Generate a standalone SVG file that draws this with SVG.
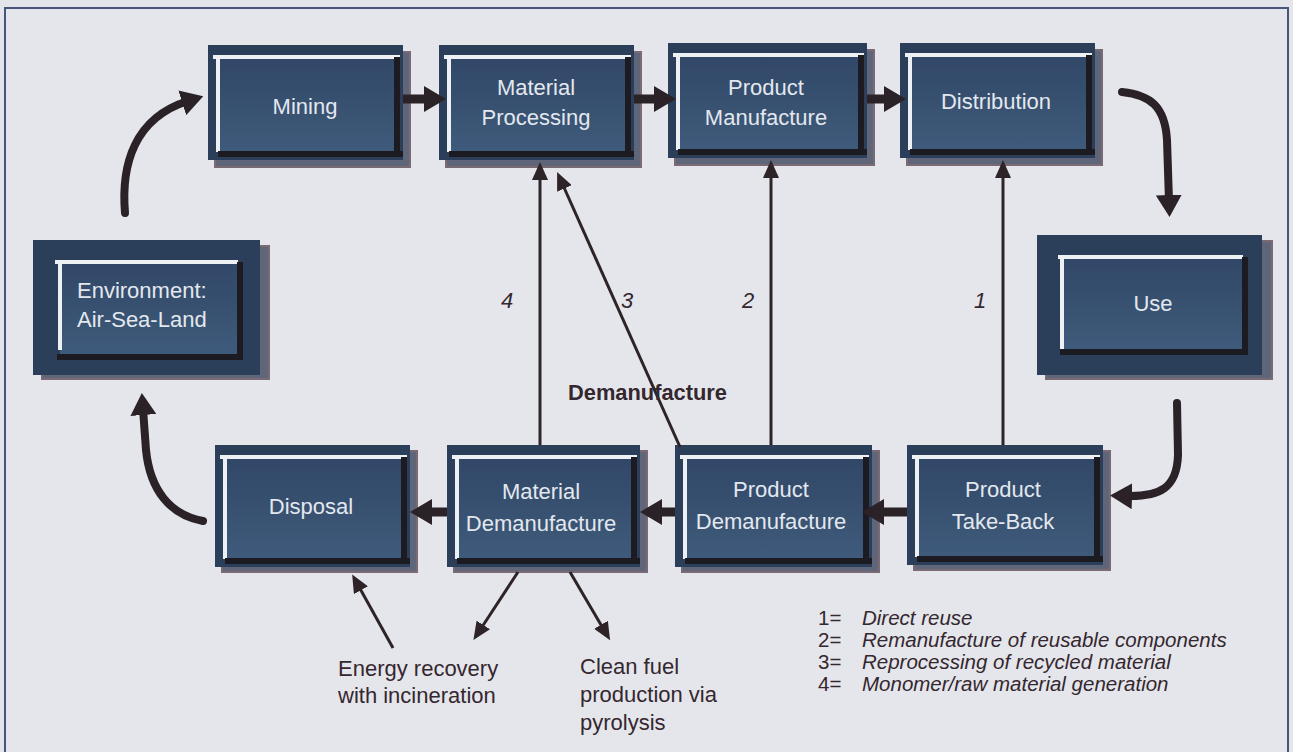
<svg xmlns="http://www.w3.org/2000/svg" width="1293" height="752" viewBox="0 0 1293 752">
  <defs>
    <linearGradient id="faceGrad" x1="0" y1="0" x2="0" y2="1">
      <stop offset="0" stop-color="#314767"/>
      <stop offset="1" stop-color="#3f5b7b"/>
    </linearGradient>
    <marker id="headBig" viewBox="0 0 22 26" markerUnits="userSpaceOnUse" markerWidth="22" markerHeight="26" refX="6" refY="13" orient="auto">
      <path d="M0,0 L22,13 L0,26 Z" fill="#2a2226"/>
    </marker>
    <marker id="headThin" viewBox="0 0 18 16" markerUnits="userSpaceOnUse" markerWidth="18" markerHeight="16" refX="6" refY="8" orient="auto">
      <path d="M0,0 L18,8 L0,16 Z" fill="#2e2428"/>
    </marker>
  </defs>
  <style>
    .shadow { fill: #5f6679; stroke: #7a6a73; stroke-width: 2; }
    .outer { fill: #2b3f5a; }
    .face { fill: url(#faceGrad); }
    .hi { stroke: #eef1f4; stroke-width: 4; fill: none; }
    .lo { stroke: #1d1b22; stroke-width: 6; fill: none; }
    .lbl { font-family: "Liberation Sans", Arial, sans-serif; font-size: 22px; fill: #e3e8ef; text-anchor: middle; }
    .thick { stroke: #2a2226; stroke-width: 9; fill: none; marker-end: url(#headBig); }
    .curve { stroke: #2a2226; stroke-width: 8; fill: none; stroke-linecap: round; stroke-linejoin: round; marker-end: url(#headBig); }
    .thin { stroke: #2e2428; stroke-width: 3; fill: none; marker-end: url(#headThin); }
    .note { font-family: "Liberation Sans", Arial, sans-serif; font-size: 22px; fill: #35272e; }
    .num { font-family: "Liberation Sans", Arial, sans-serif; font-size: 22px; font-style: italic; fill: #35272e; text-anchor: middle; }
    .legend { font-family: "Liberation Sans", Arial, sans-serif; font-size: 20.5px; fill: #35272e; }
    .legend .it { font-style: italic; }
  </style>

  <!-- page background and frame -->
  <rect x="0" y="0" width="1293" height="752" fill="#e3e5eb"/>
  <rect x="5" y="8" width="1283" height="760" fill="#e4e6ec" stroke="#48557a" stroke-width="2"/>

  <!-- top row -->
  <g id="mining">
    <rect class="shadow" x="215" y="52" width="195" height="115"/>
    <rect class="outer" x="208" y="45" width="195" height="115"/>
    <rect class="face" x="218" y="57" width="179" height="97"/>
    <path class="hi" d="M213,57 H400 M218,57 V152"/>
    <path class="lo" d="M218,154 H403 M397,57 V157"/>
    <text class="lbl" x="305" y="114">Mining</text>
  </g>
  <g id="material-processing">
    <rect class="shadow" x="446" y="52" width="195" height="115"/>
    <rect class="outer" x="439" y="45" width="195" height="115"/>
    <rect class="face" x="449" y="57" width="179" height="97"/>
    <path class="hi" d="M444,57 H631 M449,57 V152"/>
    <path class="lo" d="M449,154 H634 M628,57 V157"/>
    <text class="lbl" x="536" y="95">Material</text>
    <text class="lbl" x="536" y="125">Processing</text>
  </g>
  <g id="product-manufacture">
    <rect class="shadow" x="675" y="50" width="199" height="115"/>
    <rect class="outer" x="668" y="43" width="199" height="115"/>
    <rect class="face" x="678" y="55" width="183" height="97"/>
    <path class="hi" d="M673,55 H864 M678,55 V150"/>
    <path class="lo" d="M678,152 H867 M861,55 V155"/>
    <text class="lbl" x="766" y="95">Product</text>
    <text class="lbl" x="766" y="125">Manufacture</text>
  </g>
  <g id="distribution">
    <rect class="shadow" x="907" y="50" width="195" height="115"/>
    <rect class="outer" x="900" y="43" width="195" height="115"/>
    <rect class="face" x="910" y="55" width="179" height="97"/>
    <path class="hi" d="M905,55 H1092 M910,55 V150"/>
    <path class="lo" d="M910,152 H1095 M1089,55 V155"/>
    <text class="lbl" x="996" y="109">Distribution</text>
  </g>

  <!-- side nodes -->
  <g id="environment">
    <rect class="shadow" x="42" y="246" width="227" height="133"/>
    <rect class="outer" x="33" y="240" width="227" height="135"/>
    <rect class="face" x="60" y="262" width="180" height="95"/>
    <path class="hi" d="M55,262 H238 M60,262 V350"/>
    <path class="lo" d="M57,357 H243 M240,262 V358"/>
    <text class="lbl" x="77" y="298" style="text-anchor:start">Environment:</text>
    <text class="lbl" x="77" y="327" style="text-anchor:start">Air-Sea-Land</text>
  </g>
  <g id="use">
    <rect class="shadow" x="1046" y="241" width="226" height="138"/>
    <rect class="outer" x="1037" y="235" width="225" height="140"/>
    <rect class="face" x="1062" y="257" width="183" height="95"/>
    <path class="hi" d="M1058,257 H1243 M1062,257 V350"/>
    <path class="lo" d="M1060,352 H1248 M1245,257 V354"/>
    <text class="lbl" x="1153" y="311">Use</text>
  </g>

  <!-- bottom row -->
  <g id="disposal">
    <rect class="shadow" x="222" y="451" width="195" height="121"/>
    <rect class="outer" x="215" y="445" width="195" height="122"/>
    <rect class="face" x="225" y="457" width="179" height="104"/>
    <path class="hi" d="M220,457 H407 M225,457 V559"/>
    <path class="lo" d="M225,561 H410 M404,457 V564"/>
    <text class="lbl" x="311" y="514">Disposal</text>
  </g>
  <g id="material-demanufacture">
    <rect class="shadow" x="454" y="451" width="193" height="121"/>
    <rect class="outer" x="447" y="445" width="193" height="122"/>
    <rect class="face" x="457" y="457" width="177" height="104"/>
    <path class="hi" d="M452,457 H637 M457,457 V559"/>
    <path class="lo" d="M457,561 H640 M634,457 V564"/>
    <text class="lbl" x="541" y="499">Material</text>
    <text class="lbl" x="541" y="531">Demanufacture</text>
  </g>
  <g id="product-demanufacture">
    <rect class="shadow" x="682" y="451" width="197" height="121"/>
    <rect class="outer" x="675" y="445" width="197" height="122"/>
    <rect class="face" x="685" y="457" width="181" height="104"/>
    <path class="hi" d="M680,457 H869 M685,457 V559"/>
    <path class="lo" d="M685,561 H872 M866,457 V564"/>
    <text class="lbl" x="771" y="497">Product</text>
    <text class="lbl" x="771" y="529">Demanufacture</text>
  </g>
  <g id="product-take-back">
    <rect class="shadow" x="914" y="451" width="196" height="119"/>
    <rect class="outer" x="907" y="445" width="196" height="120"/>
    <rect class="face" x="917" y="457" width="180" height="102"/>
    <path class="hi" d="M912,457 H1100 M917,457 V557"/>
    <path class="lo" d="M917,559 H1103 M1097,457 V562"/>
    <text class="lbl" x="1003" y="497">Product</text>
    <text class="lbl" x="1003" y="529">Take-Back</text>
  </g>

  <!-- connectors, drawn over the node edges so the heads stay visible -->
  <g id="connectors">
    <!-- main forward flow -->
    <line class="thick" x1="403" y1="99" x2="430" y2="99"/>
    <line class="thick" x1="634" y1="99" x2="660" y2="99"/>
    <line class="thick" x1="867" y1="99" x2="890" y2="99"/>
    <!-- reverse flow along the bottom -->
    <line class="thick" x1="447" y1="512" x2="426" y2="512"/>
    <line class="thick" x1="675" y1="512" x2="656" y2="512"/>
    <line class="thick" x1="907" y1="512" x2="878" y2="512"/>
    <!-- curved loop arrows -->
    <path class="curve" d="M125,213 C121,165 134,118 188,101"/>
    <path class="curve" d="M1122,92 C1150,95 1165,106 1167,140 L1169,201"/>
    <path class="curve" d="M1177,403 L1178,455 C1177,488 1160,497 1126,496"/>
    <path class="curve" d="M203,521 C170,515 150,490 146,450 L143,409"/>
    <!-- recovery loops -->
    <line class="thin" x1="540" y1="445" x2="540" y2="174"/>
    <line class="thin" x1="680" y1="447" x2="562" y2="183"/>
    <line class="thin" x1="771" y1="445" x2="771" y2="172"/>
    <line class="thin" x1="1003" y1="445" x2="1003" y2="172"/>
    <!-- end-of-life outlets -->
    <line class="thin" x1="393" y1="648" x2="358" y2="585"/>
    <line class="thin" x1="518" y1="572" x2="480" y2="630"/>
    <line class="thin" x1="570" y1="572" x2="604" y2="630"/>
  </g>

  <!-- loop numbers and labels -->
  <g id="loop-labels">
    <text class="num" x="507" y="308">4</text>
    <text class="num" x="627" y="308">3</text>
    <text class="num" x="748" y="308">2</text>
    <text class="num" x="980" y="308">1</text>
    <text class="note" x="568" y="400" font-weight="bold" font-size="21" textLength="159" lengthAdjust="spacingAndGlyphs">Demanufacture</text>
  </g>

  <g id="outlet-labels">
    <text class="note" x="338" y="676">Energy recovery</text>
    <text class="note" x="338" y="703">with incineration</text>
    <text class="note" x="580" y="674">Clean fuel</text>
    <text class="note" x="580" y="702">production via</text>
    <text class="note" x="580" y="730">pyrolysis</text>
  </g>

  <g id="legend" class="legend">
    <text x="818" y="625">1=</text><text class="it" x="862" y="625">Direct reuse</text>
    <text x="818" y="647">2=</text><text class="it" x="862" y="647">Remanufacture of reusable components</text>
    <text x="818" y="669">3=</text><text class="it" x="862" y="669">Reprocessing of recycled material</text>
    <text x="818" y="691">4=</text><text class="it" x="862" y="691">Monomer/raw material generation</text>
  </g>
</svg>
